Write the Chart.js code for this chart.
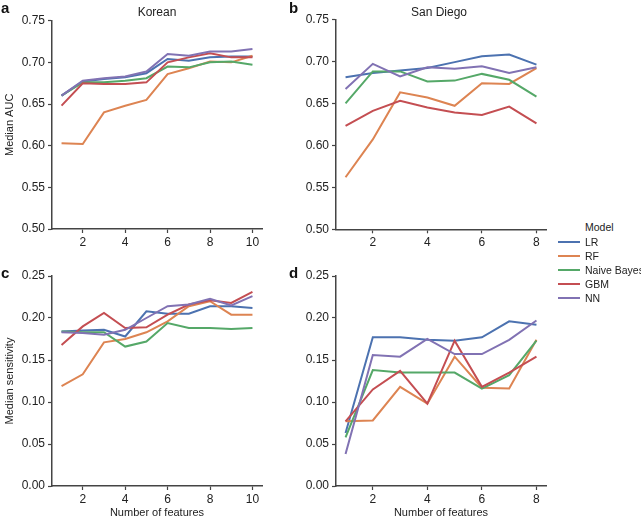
<!DOCTYPE html>
<html>
<head>
<meta charset="utf-8">
<script src="https://cdn.jsdelivr.net/npm/chart.js@4/dist/chart.umd.min.js"></script>
<style>
  html, body { margin: 0; padding: 0; background: #fff; }
  body { width: 641px; height: 520px; position: relative; overflow: hidden; font-family: "Liberation Sans", Arial, sans-serif; color: #222; }
  canvas { position: absolute; }
  .txt { position: absolute; line-height: 1; white-space: nowrap; transform: translate(-50%, -50%); }
  .letter { position: absolute; font-weight: bold; font-size: 15px; line-height: 15px; color: #111; }
  .leg { position: absolute; font-size: 10.5px; line-height: 1; white-space: nowrap; transform: translateY(-50%); color: #222; }
  .sw { position: absolute; height: 2px; width: 22px; transform: translateY(-50%); }
</style>
</head>
<body>
<canvas id="ca" width="280" height="252" style="left:0px;top:0px;"></canvas>
<canvas id="cb" width="270" height="252" style="left:290px;top:0px;"></canvas>
<canvas id="cc" width="280" height="260" style="left:0px;top:260px;"></canvas>
<canvas id="cd" width="270" height="260" style="left:290px;top:260px;"></canvas>

<div class="letter" style="left:1px;top:0px;">a</div>
<div class="letter" style="left:289px;top:0px;">b</div>
<div class="letter" style="left:1px;top:265px;">c</div>
<div class="letter" style="left:289px;top:265px;">d</div>
<div class="txt" style="left:157px;top:12px;font-size:12px;">Korean</div>
<div class="txt" style="left:439px;top:12px;font-size:12px;">San Diego</div>
<div id="legend"></div>

<script>
// ---- data ----
const models = ["LR", "RF", "Naive Bayes", "GBM", "NN"];
const colors = ["#4C72B0", "#DD8452", "#55A868", "#C44E52", "#8172B3"];

const featuresKorean = [1, 2, 3, 4, 5, 6, 7, 8, 9, 10];
const featuresSanDiego = [1, 2, 3, 4, 5, 6, 7, 8];

// Korean, median AUC
const korAucLR  = [0.660, 0.677, 0.680, 0.682, 0.687, 0.704, 0.702, 0.706, 0.707, 0.707];
const korAucRF  = [0.603, 0.602, 0.640, 0.648, 0.655, 0.686, 0.693, 0.701, 0.700, 0.708];
const korAucNB  = [0.660, 0.676, 0.676, 0.678, 0.681, 0.695, 0.694, 0.700, 0.701, 0.697];
const korAucGBM = [0.648, 0.675, 0.674, 0.674, 0.676, 0.700, 0.706, 0.711, 0.706, 0.706];
const korAucNN  = [0.660, 0.678, 0.681, 0.683, 0.689, 0.710, 0.708, 0.713, 0.713, 0.716];

// San Diego, median AUC
const sdAucLR  = [0.681, 0.686, 0.689, 0.692, 0.699, 0.706, 0.708, 0.696];
const sdAucRF  = [0.562, 0.607, 0.663, 0.657, 0.647, 0.674, 0.673, 0.692];
const sdAucNB  = [0.650, 0.688, 0.688, 0.676, 0.677, 0.685, 0.678, 0.658];
const sdAucGBM = [0.623, 0.641, 0.653, 0.645, 0.639, 0.636, 0.646, 0.626];
const sdAucNN  = [0.667, 0.697, 0.682, 0.693, 0.691, 0.694, 0.686, 0.693];

// Korean, median sensitivity
const korSenLR  = [0.184, 0.185, 0.186, 0.178, 0.208, 0.205, 0.205, 0.214, 0.214, 0.212];
const korSenRF  = [0.119, 0.133, 0.171, 0.175, 0.183, 0.196, 0.214, 0.220, 0.204, 0.204];
const korSenNB  = [0.184, 0.183, 0.183, 0.166, 0.172, 0.194, 0.188, 0.188, 0.187, 0.188];
const korSenGBM = [0.168, 0.190, 0.206, 0.188, 0.189, 0.204, 0.216, 0.221, 0.218, 0.231];
const korSenNN  = [0.183, 0.182, 0.180, 0.186, 0.200, 0.214, 0.216, 0.223, 0.215, 0.226];

// San Diego, median sensitivity
const sdSenLR  = [0.063, 0.177, 0.177, 0.174, 0.173, 0.177, 0.196, 0.192];
const sdSenRF  = [0.077, 0.078, 0.118, 0.098, 0.154, 0.117, 0.116, 0.174];
const sdSenNB  = [0.058, 0.138, 0.135, 0.135, 0.135, 0.116, 0.132, 0.173];
const sdSenGBM = [0.077, 0.115, 0.137, 0.098, 0.173, 0.118, 0.135, 0.154];
const sdSenNN  = [0.038, 0.156, 0.154, 0.175, 0.157, 0.157, 0.174, 0.197];

const xTicksKorean = [2, 4, 6, 8, 10];
const xTicksSanDiego = [2, 4, 6, 8];
const yTicksAuc = [0.50, 0.55, 0.60, 0.65, 0.70, 0.75];
const yTicksSen = [0.00, 0.05, 0.10, 0.15, 0.20, 0.25];

// ---- chart building ----
const AXIS_COLOR = "#444";
const FONT = "'Liberation Sans', Arial, sans-serif";

function makeDatasets(xs, series) {
  return series.map((vals, i) => ({
    label: models[i],
    data: xs.map((x, j) => ({ x: x, y: vals[j] })),
    borderColor: colors[i],
    backgroundColor: colors[i],
    borderWidth: 2,
    pointRadius: 0,
    tension: 0,
    fill: false,
    order: series.length - i
  }));
}

function makeChart(id, opts) {
  const xs = opts.xs;
  const span = xs[xs.length - 1] - xs[0];
  const yT = opts.yTicks;
  return new Chart(document.getElementById(id), {
    type: "line",
    data: { datasets: makeDatasets(xs, opts.series) },
    options: {
      responsive: false,
      animation: false,
      devicePixelRatio: 1,
      layout: { padding: opts.padding },
      plugins: { legend: { display: false }, tooltip: { enabled: false }, title: { display: false } },
      scales: {
        x: {
          type: "linear",
          min: xs[0] - 0.05 * span,
          max: xs[xs.length - 1] + 0.05 * span,
          afterBuildTicks: s => { s.ticks = opts.xTicks.map(v => ({ value: v })); },
          afterFit: s => { s.height = opts.xHeight; },
          ticks: { color: "#222", font: { family: FONT, size: 12 }, padding: 2, maxRotation: 0, callback: v => String(v) },
          grid: { drawOnChartArea: false, drawTicks: true, tickLength: 4, color: AXIS_COLOR, tickWidth: 1.2 },
          border: { display: true, color: AXIS_COLOR, width: 1.5 },
          title: { display: !!opts.xTitle, text: opts.xTitle || "", color: "#222", font: { family: FONT, size: 11 }, padding: { top: 0, bottom: 0 } }
        },
        y: {
          type: "linear",
          min: yT[0],
          max: yT[yT.length - 1],
          afterBuildTicks: s => { s.ticks = yT.map(v => ({ value: v })); },
          afterFit: s => { s.width = opts.yWidth; },
          ticks: { color: "#222", font: { family: FONT, size: 12 }, padding: 3, callback: v => Number(v).toFixed(2) },
          grid: { drawOnChartArea: false, drawTicks: true, tickLength: 4, color: AXIS_COLOR, tickWidth: 1.2 },
          border: { display: true, color: AXIS_COLOR, width: 1.5 },
          title: { display: !!opts.yTitle, text: opts.yTitle || "", color: "#222", font: { family: FONT, size: 11 }, padding: { top: 3, bottom: 0 } }
        }
      }
    }
  });
}

makeChart("ca", {
  xs: featuresKorean, xTicks: xTicksKorean, yTicks: yTicksAuc,
  series: [korAucLR, korAucRF, korAucNB, korAucGBM, korAucNN],
  padding: { left: 0, top: 20.7, right: 18, bottom: 0 },
  yWidth: 52, xHeight: 23, yTitle: "Median AUC"
});
makeChart("cb", {
  xs: featuresSanDiego, xTicks: xTicksSanDiego, yTicks: yTicksAuc,
  series: [sdAucLR, sdAucRF, sdAucNB, sdAucGBM, sdAucNN],
  padding: { left: 0, top: 19.3, right: 14, bottom: 0 },
  yWidth: 46, xHeight: 22.7
});
makeChart("cc", {
  xs: featuresKorean, xTicks: xTicksKorean, yTicks: yTicksSen,
  series: [korSenLR, korSenRF, korSenNB, korSenGBM, korSenNN],
  padding: { left: 0, top: 16, right: 18, bottom: 0 },
  yWidth: 52, xHeight: 34, yTitle: "Median sensitivity", xTitle: "Number of features"
});
makeChart("cd", {
  xs: featuresSanDiego, xTicks: xTicksSanDiego, yTicks: yTicksSen,
  series: [sdSenLR, sdSenRF, sdSenNB, sdSenGBM, sdSenNN],
  padding: { left: 0, top: 16, right: 14, bottom: 0 },
  yWidth: 46, xHeight: 34, xTitle: "Number of features"
});

// ---- legend ----
const leg = document.getElementById("legend");
let html = '<div class="leg" style="left:585px;top:227px;">Model</div>';
models.forEach((m, i) => {
  const y = 242 + i * 14;
  html += '<div class="sw" style="left:558px;top:' + y + 'px;background:' + colors[i] + ';"></div>';
  html += '<div class="leg" style="left:585px;top:' + y + 'px;">' + m + '</div>';
});
leg.innerHTML = html;
</script>
</body>
</html>
